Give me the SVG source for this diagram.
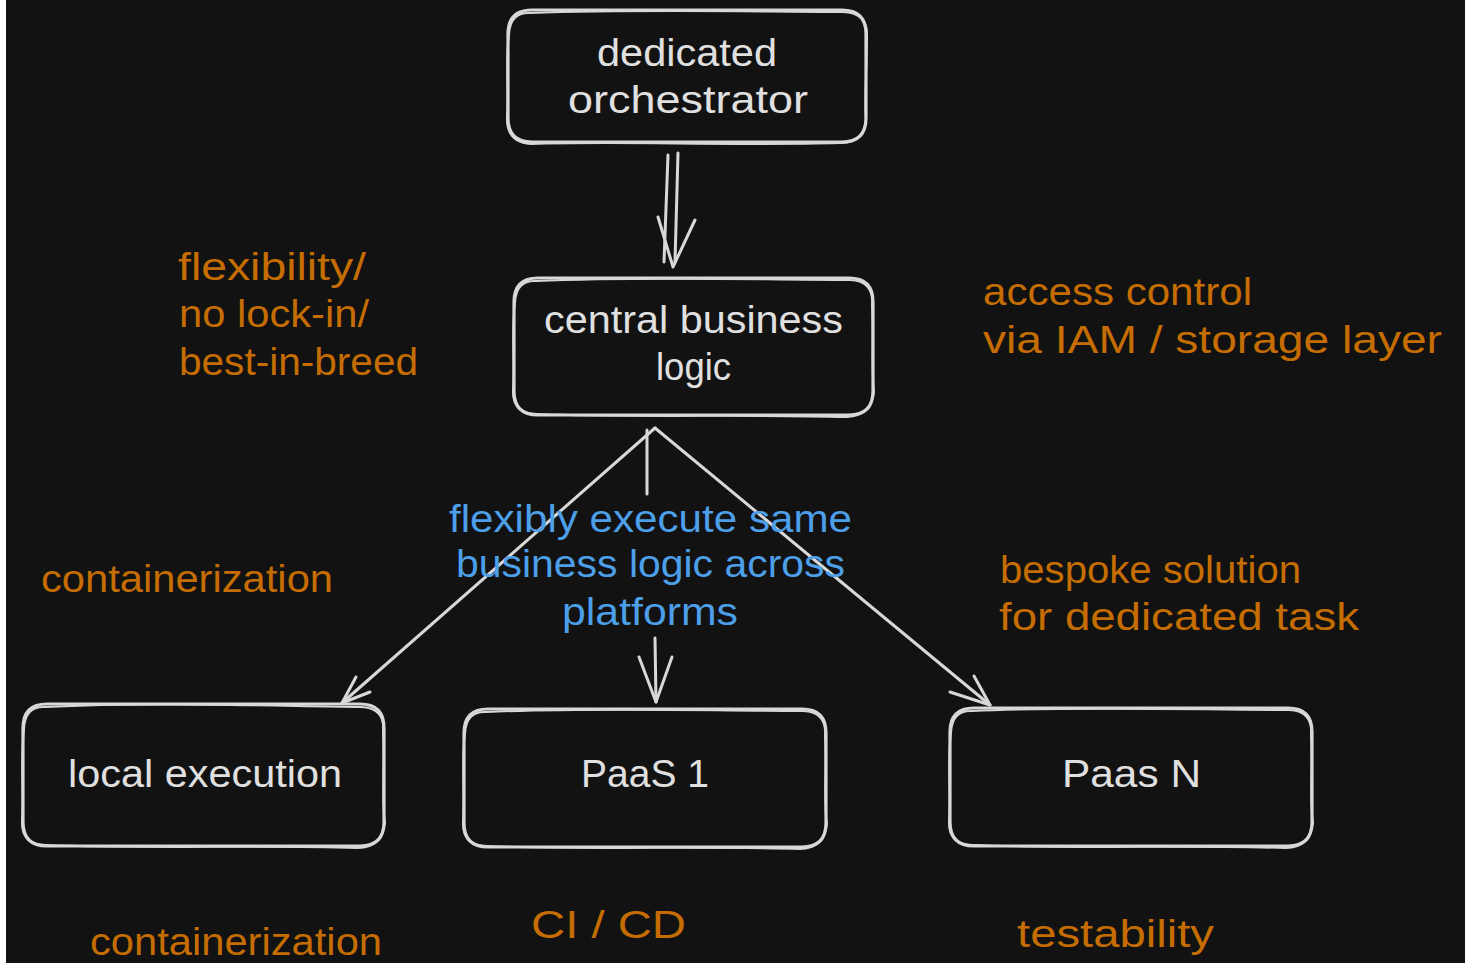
<svg xmlns="http://www.w3.org/2000/svg" width="1465" height="963" viewBox="0 0 1465 963">
<style>
.bg{fill:#121212}
.box{fill:none;stroke:#d8d8d8;stroke-linecap:round;stroke-linejoin:round}
.b1{stroke-width:3.2}
.b2{stroke-width:2}
.ln{fill:none;stroke:#d8d8d8;stroke-width:3;stroke-linecap:round;stroke-linejoin:round}
text{font-family:"Liberation Sans","DejaVu Sans",sans-serif;font-size:38px}
.w{fill:#e0e0e0}
.o{fill:#c56d02}
.bl{fill:#4c9fe8}
</style>
<rect x="0" y="0" width="1465" height="963" fill="#ffffff"/>
<rect class="bg" x="6" y="0" width="1459" height="963"/>

<g id="connectors">
  <path class="ln" d="M668,155 L664,262"/>
  <path class="ln" d="M678,153 L675,262"/>
  <path class="ln" d="M658,217 L673,267 M695,220 L673,267"/>
  <path class="ln" d="M655,428 L342,703"/>
  <path class="ln" d="M370,692 L342,703 L356,677"/>
  <path class="ln" d="M655,428 L990,705"/>
  <path class="ln" d="M950,692 L990,705 L974,676"/>
  <path class="ln" d="M647,430 L647,494"/>
  <path class="ln" d="M655,638 L656,702"/>
  <path class="ln" d="M639,657 L656,702 L672,657"/>
</g>

<g id="node-orchestrator">
  <path class="box b1" d="M532,10 H842 Q866,10 866,34 V118 Q866,142 842,142 H532 Q508,142 508,118 V34 Q508,10 532,10 Z"/>
  <path class="box b2" d="M530,13 C650,9 760,12 843,12 Q868,13 867,36 C867,70 864,100 866,120 Q863,144 840,143 C730,146 620,141 531,144 Q506,142 507,117 C509,90 505,60 509,35 Q510,12 530,13"/>
  <text class="w" x="597" y="66" textLength="180" lengthAdjust="spacingAndGlyphs">dedicated</text>
  <text class="w" x="568" y="113" textLength="240" lengthAdjust="spacingAndGlyphs">orchestrator</text>
</g>

<g id="node-central">
  <path class="box b1" d="M538,278 H849 Q873,278 873,302 V391 Q873,415 849,415 H538 Q514,415 514,391 V302 Q514,278 538,278 Z"/>
  <path class="box b2" d="M536,281 C650,276 760,280 850,280 Q874,281 872,305 C874,340 871,370 874,392 Q871,416 847,417 C740,414 630,418 537,414 Q512,414 513,390 C515,360 511,330 515,303 Q516,280 536,281"/>
  <text class="w" x="544" y="333" textLength="299" lengthAdjust="spacingAndGlyphs">central business</text>
  <text class="w" x="656" y="380" textLength="75" lengthAdjust="spacingAndGlyphs">logic</text>
</g>

<g id="node-local">
  <path class="box b1" d="M47,704 H360 Q384,704 384,728 V822 Q384,846 360,846 H47 Q23,846 23,822 V728 Q23,704 47,704 Z"/>
  <path class="box b2" d="M45,707 C150,702 270,706 361,707 Q385,708 383,731 C385,770 381,800 385,823 Q382,848 358,848 C250,845 140,849 46,845 Q21,845 22,821 C24,790 20,760 24,729 Q25,706 45,707"/>
  <text class="w" x="68" y="787" textLength="274" lengthAdjust="spacingAndGlyphs">local execution</text>
</g>

<g id="node-paas1">
  <path class="box b1" d="M488,709 H802 Q826,709 826,733 V823 Q826,847 802,847 H488 Q464,847 464,823 V733 Q464,709 488,709 Z"/>
  <path class="box b2" d="M486,712 C600,707 710,711 803,711 Q827,712 825,736 C827,770 823,800 827,824 Q824,849 800,849 C700,846 580,850 487,846 Q462,846 463,822 C465,790 461,760 465,734 Q466,711 486,712"/>
  <text class="w" x="581" y="787" textLength="128" lengthAdjust="spacingAndGlyphs">PaaS 1</text>
</g>

<g id="node-paasn">
  <path class="box b1" d="M974,708 H1288 Q1312,708 1312,732 V822 Q1312,846 1288,846 H974 Q950,846 950,822 V732 Q950,708 974,708 Z"/>
  <path class="box b2" d="M972,711 C1080,706 1200,710 1289,710 Q1313,711 1311,735 C1313,770 1309,800 1313,823 Q1310,848 1286,848 C1180,845 1070,849 973,845 Q948,845 949,821 C951,790 947,760 951,733 Q952,710 972,711"/>
  <text class="w" x="1062" y="787" textLength="139" lengthAdjust="spacingAndGlyphs">Paas N</text>
</g>

<g id="label-flexibly">
  <text class="bl" x="449" y="532" textLength="403" lengthAdjust="spacingAndGlyphs">flexibly execute same</text>
  <text class="bl" x="456" y="577" textLength="389" lengthAdjust="spacingAndGlyphs">business logic across</text>
  <text class="bl" x="562" y="625" textLength="176" lengthAdjust="spacingAndGlyphs">platforms</text>
</g>

<g id="note-flexibility">
  <text class="o" x="178" y="280" textLength="188" lengthAdjust="spacingAndGlyphs">flexibility/</text>
  <text class="o" x="179" y="327" textLength="190" lengthAdjust="spacingAndGlyphs">no lock-in/</text>
  <text class="o" x="179" y="375" textLength="239" lengthAdjust="spacingAndGlyphs">best-in-breed</text>
</g>

<g id="note-access">
  <text class="o" x="983" y="305" textLength="269" lengthAdjust="spacingAndGlyphs">access control</text>
  <text class="o" x="983" y="353" textLength="459" lengthAdjust="spacingAndGlyphs">via IAM / storage layer</text>
</g>

<g id="note-containerization-mid">
  <text class="o" x="41" y="592" textLength="292" lengthAdjust="spacingAndGlyphs">containerization</text>
</g>

<g id="note-bespoke">
  <text class="o" x="1000" y="583" textLength="301" lengthAdjust="spacingAndGlyphs">bespoke solution</text>
  <text class="o" x="999" y="630" textLength="360" lengthAdjust="spacingAndGlyphs">for dedicated task</text>
</g>

<g id="note-containerization-bottom">
  <text class="o" x="90" y="955" textLength="292" lengthAdjust="spacingAndGlyphs">containerization</text>
</g>

<g id="note-cicd">
  <text class="o" x="531" y="938" textLength="155" lengthAdjust="spacingAndGlyphs">CI / CD</text>
</g>

<g id="note-testability">
  <text class="o" x="1017" y="947" textLength="197" lengthAdjust="spacingAndGlyphs">testability</text>
</g>
</svg>
